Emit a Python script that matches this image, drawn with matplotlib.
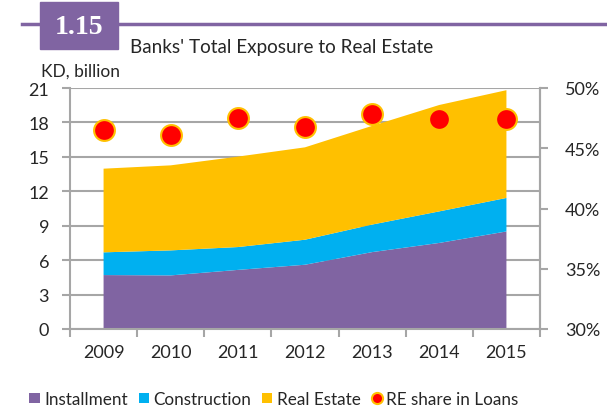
import matplotlib.pyplot as plt
from matplotlib.lines import Line2D
from matplotlib.patches import Patch, Rectangle
from matplotlib.ticker import FuncFormatter, FixedLocator

years = ["2009", "2010", "2011", "2012", "2013", "2014", "2015"]
installment = [4.70, 4.67, 5.15, 5.60, 6.70, 7.50, 8.50]
construction = [1.98, 2.18, 1.99, 2.18, 2.40, 2.75, 2.92]
real_estate = [7.29, 7.41, 7.88, 8.05, 8.60, 9.27, 9.39]
re_share = [46.5, 46.1, 47.55, 46.8, 47.85, 47.4, 47.4]

PURPLE = "#8064A2"
CYAN = "#00B0F0"
GOLD = "#FFC000"
GRID = "#A6A6A6"
TEXT = "#262626"

plt.rcParams["font.family"] = ["Lato", "DejaVu Sans"]

fig = plt.figure(figsize=(6.07, 4.10), dpi=100)
W, H = 607, 410
ax = fig.add_axes([70 / W, (H - 330) / H, 470 / W, 241 / H])

x = list(range(len(years)))
ax.stackplot(x, installment, construction, real_estate,
             colors=[PURPLE, CYAN, GOLD], linewidth=0, zorder=2)
ax.set_xlim(-0.5, len(years) - 0.5)
ax.set_ylim(0, 21)
ax.set_yticks(range(0, 22, 3))
ax.yaxis.grid(True, color=GRID, linewidth=1.5, zorder=0)
ax.set_axisbelow(True)
ax.set_xticks(x)
ax.set_xticklabels(years)
ax.xaxis.set_minor_locator(FixedLocator([i - 0.5 for i in range(len(years) + 1)]))
ax.tick_params(axis="x", which="major", length=0, pad=11, labelsize=13, labelcolor=TEXT)
ax.tick_params(axis="x", which="minor", length=6, width=1.5, color=GRID)
ax.tick_params(axis="y", length=6, width=1.5, color=GRID, labelsize=13, labelcolor=TEXT, pad=9)
ax.spines["top"].set_visible(False)
for side in ["left", "bottom", "right"]:
    ax.spines[side].set_color(GRID)
    ax.spines[side].set_linewidth(1.5)

ax2 = ax.twinx()
ax2.set_ylim(30, 50)
ax2.set_yticks(range(30, 51, 5))
ax2.yaxis.set_major_formatter(FuncFormatter(lambda v, p: f"{v:.0f}%"))
ax2.tick_params(axis="y", length=6, width=1.5, color=GRID, labelsize=13, labelcolor=TEXT, pad=12)
for side in ["top", "left", "bottom"]:
    ax2.spines[side].set_visible(False)
ax2.spines["right"].set_color(GRID)
ax2.spines["right"].set_linewidth(1.5)
ax2.plot(x, re_share, linestyle="none", marker="o", markersize=15,
         markerfacecolor="#FF0000", markeredgecolor=GOLD, markeredgewidth=1.5,
         zorder=5, clip_on=False)

fig.text(41 / W, 1 - 72 / H, "KD, billion", fontsize=12.5, color=TEXT, va="center")

# header: purple rule and number box
fig.add_artist(Line2D([22 / W, 1.0], [1 - 25 / H, 1 - 25 / H], color=PURPLE, linewidth=2.5))
fig.add_artist(Rectangle((40 / W, 1 - 50 / H), 78 / W, 47 / H, color=PURPLE,
                         transform=fig.transFigure))
fig.text(79 / W, 1 - 27 / H, "1.15", fontsize=20, fontweight="bold", color="white",
         family=["Liberation Serif", "DejaVu Serif"], ha="center", va="center")
fig.text(130 / W, 1 - 47 / H, "Banks' Total Exposure to Real Estate", fontsize=13.6,
         color=TEXT, va="center")

handles = [
    Patch(facecolor=PURPLE, label="Installment"),
    Patch(facecolor=CYAN, label="Construction"),
    Patch(facecolor=GOLD, label="Real Estate"),
    Line2D([], [], linestyle="none", marker="o", markersize=8, markerfacecolor="#FF0000",
           markeredgecolor=GOLD, markeredgewidth=1.5, label="RE share in Loans"),
]
fig.legend(handles=handles, loc="center", bbox_to_anchor=(274 / W, 1 - 400 / H), ncol=4,
           frameon=False, fontsize=12.3, handlelength=0.6, handleheight=0.6,
           handletextpad=0.25, columnspacing=0.65, labelcolor=TEXT)

fig.savefig("out.png", dpi=100)
